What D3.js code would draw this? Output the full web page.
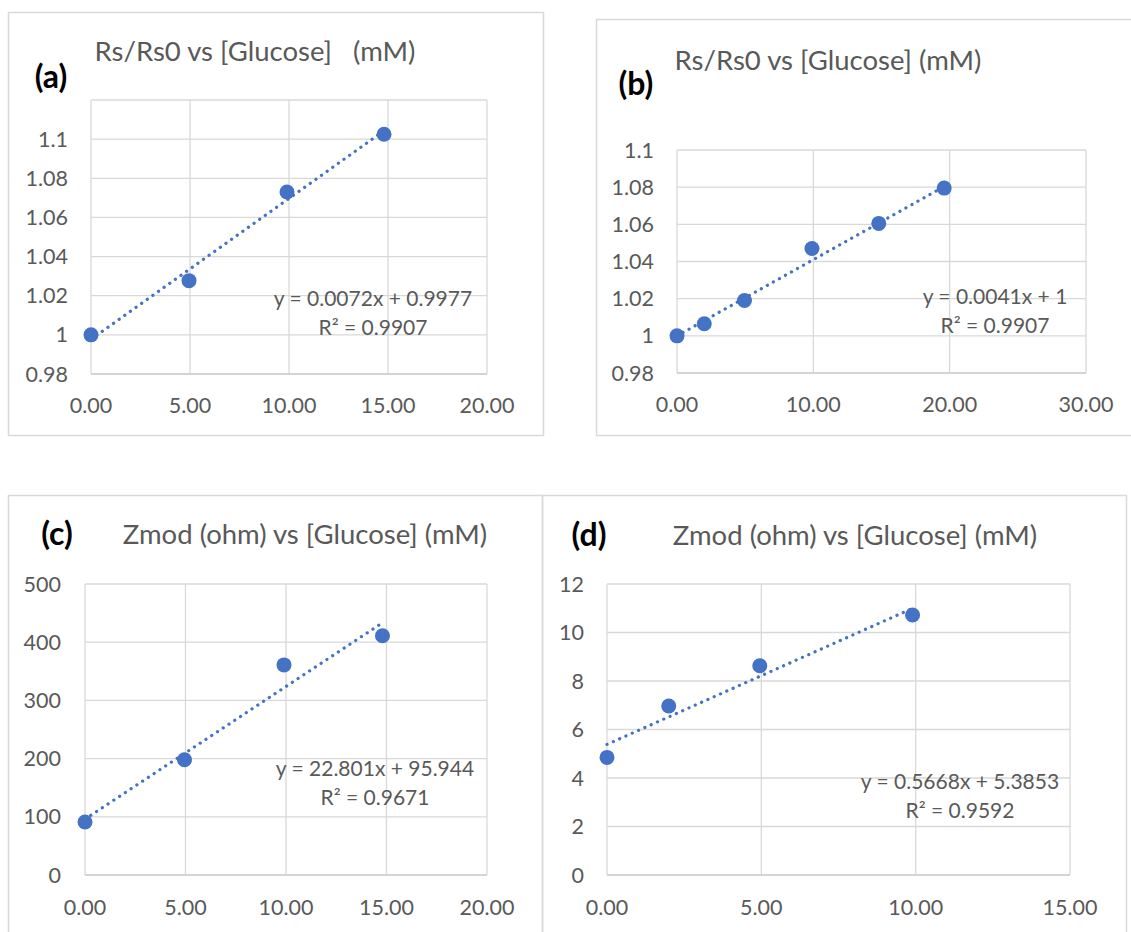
<!DOCTYPE html>
<html>
<head>
<meta charset="utf-8">
<script src="https://cdn.jsdelivr.net/npm/d3@7"></script>
<style>
  html, body { margin: 0; padding: 0; background: #ffffff; }
  svg { display: block; }
  text { font-family: Lato, "Noto Sans", sans-serif; }
</style>
</head>
<body>
<svg id="chart" width="1131" height="932"></svg>
<script>
// ---------- DATA ----------
const xA = [0, 4.95, 9.9, 14.8];
const yA = [1, 1.0277, 1.073, 1.1025];
const xB = [0, 2, 4.95, 9.9, 14.8, 19.6];
const yB = [1, 1.0065, 1.019, 1.047, 1.0605, 1.0795];
const xC = [0, 4.95, 9.9, 14.8];
const yC = [91, 198, 361, 411];
const xD = [0, 2, 4.95, 9.9];
const yD = [4.85, 6.97, 8.63, 10.72];

const slopes = [0.0072, 0.0041, 22.801, 0.5668];
const intercepts = [0.9977, 1, 95.944, 5.3853];
const equations = ["y = 0.0072x + 0.9977", "y = 0.0041x + 1", "y = 22.801x + 95.944", "y = 0.5668x + 5.3853"];
const rSquared = ["R² = 0.9907", "R² = 0.9907", "R² = 0.9671", "R² = 0.9592"];
const titles = ["Rs/Rs0 vs [Glucose]   (mM)", "Rs/Rs0 vs [Glucose] (mM)", "Zmod (ohm) vs [Glucose] (mM)", "Zmod (ohm) vs [Glucose] (mM)"];
const letters = ["(a)", "(b)", "(c)", "(d)"];

const xTicksA = [0, 5, 10, 15, 20];
const xTicksB = [0, 10, 20, 30];
const xTicksC = [0, 5, 10, 15, 20];
const xTicksD = [0, 5, 10, 15];
const yTicksA = [0.98, 1, 1.02, 1.04, 1.06, 1.08, 1.1];
const yTicksB = [0.98, 1, 1.02, 1.04, 1.06, 1.08, 1.1];
const yTicksC = [0, 100, 200, 300, 400, 500];
const yTicksD = [0, 2, 4, 6, 8, 10, 12];

// ---------- LAYOUT ----------
const layouts = [
  { frame: [8, 12, 535, 423], px: [91, 487], py: [374, 100], yDom: [0.98, 1.12], xDom: [0, 20],
    yLab: 68, xLabY: 405, title: [255, 51], letter: [51, 77], eq: [373, 299, 328] },
  { frame: [596, 19, 545, 416], px: [677, 1086], py: [373, 150], yDom: [0.98, 1.1], xDom: [0, 30],
    yLab: 654, xLabY: 404, title: [828, 60], letter: [636, 84], eq: [995, 297, 326] },
  { frame: [8, 495, 534, 450], px: [85, 487], py: [875, 584], yDom: [0, 500], xDom: [0, 20],
    yLab: 61, xLabY: 907, title: [305, 534], letter: [57, 534], eq: [375, 769, 798] },
  { frame: [542, 495, 584, 450], px: [607, 1070], py: [875, 584], yDom: [0, 12], xDom: [0, 15],
    yLab: 584, xLabY: 907, title: [855, 535], letter: [589, 535], eq: [960, 782, 811] }
];

const xs = [xA, xB, xC, xD];
const ys = [yA, yB, yC, yD];
const xTicks = [xTicksA, xTicksB, xTicksC, xTicksD];
const yTicks = [yTicksA, yTicksB, yTicksC, yTicksD];

const svg = d3.select("#chart");
svg.append("rect").attr("width", 1131).attr("height", 932).attr("fill", "#ffffff");

const textColor = "#595959";
const gridColor = "#D9D9D9";
const blue = "#4472C4";

layouts.forEach((L, i) => {
  const g = svg.append("g");
  g.append("rect")
    .attr("x", L.frame[0] + 0.5).attr("y", L.frame[1] + 0.5)
    .attr("width", L.frame[2]).attr("height", L.frame[3])
    .attr("fill", "none").attr("stroke", gridColor).attr("stroke-width", 1.5);

  const x = d3.scaleLinear().domain(L.xDom).range(L.px);
  const y = d3.scaleLinear().domain(L.yDom).range(L.py);

  const hLines = yTicks[i].concat([L.yDom[1]]).filter((v, k, a) => a.indexOf(v) === k);
  g.selectAll(".hg").data(hLines).join("line")
    .attr("x1", L.px[0]).attr("x2", L.px[1])
    .attr("y1", d => y(d)).attr("y2", d => y(d))
    .attr("stroke", gridColor).attr("stroke-width", 1.3);
  g.selectAll(".vg").data(xTicks[i]).join("line")
    .attr("x1", d => x(d)).attr("x2", d => x(d))
    .attr("y1", L.py[0]).attr("y2", L.py[1])
    .attr("stroke", gridColor).attr("stroke-width", 1.3);
  g.append("line")
    .attr("x1", L.px[0]).attr("x2", L.px[1])
    .attr("y1", y(L.yDom[0])).attr("y2", y(L.yDom[0]))
    .attr("stroke", "#CFCFCF").attr("stroke-width", 1.5);

  g.selectAll(".yl").data(yTicks[i]).join("text")
    .attr("x", L.yLab).attr("y", d => y(d))
    .attr("dy", "0.35em").attr("text-anchor", "end")
    .attr("fill", textColor).attr("font-size", 21.5)
    .text(d => String(d));
  g.selectAll(".xl").data(xTicks[i]).join("text")
    .attr("x", d => x(d)).attr("y", L.xLabY)
    .attr("dy", "0.35em").attr("text-anchor", "middle")
    .attr("fill", textColor).attr("font-size", 21.5)
    .text(d => d3.format(".2f")(d));

  const xMin = d3.min(xs[i]), xMax = d3.max(xs[i]);
  g.append("line")
    .attr("x1", x(xMin)).attr("y1", y(slopes[i] * xMin + intercepts[i]))
    .attr("x2", x(xMax)).attr("y2", y(slopes[i] * xMax + intercepts[i]))
    .attr("stroke", blue).attr("stroke-width", 3.2)
    .attr("stroke-linecap", "round").attr("stroke-dasharray", "0.1 6.8");

  g.selectAll(".pt").data(xs[i].map((v, k) => [v, ys[i][k]])).join("circle")
    .attr("cx", d => x(d[0])).attr("cy", d => y(d[1]))
    .attr("r", 7.5).attr("fill", blue);

  g.append("text")
    .attr("x", L.title[0]).attr("y", L.title[1]).attr("dy", "0.35em")
    .attr("text-anchor", "middle").attr("fill", textColor).attr("font-size", 27.5)
    .style("white-space", "pre")
    .text(titles[i]);
  g.append("text")
    .attr("x", L.letter[0]).attr("y", L.letter[1]).attr("dy", "0.35em")
    .attr("text-anchor", "middle").attr("fill", "#000000").attr("font-size", 32)
    .attr("font-weight", "bold")
    .text(letters[i]);
  g.append("text")
    .attr("x", L.eq[0]).attr("y", L.eq[1]).attr("dy", "0.35em")
    .attr("text-anchor", "middle").attr("fill", textColor).attr("font-size", 21)
    .text(equations[i]);
  g.append("text")
    .attr("x", L.eq[0]).attr("y", L.eq[2]).attr("dy", "0.35em")
    .attr("text-anchor", "middle").attr("fill", textColor).attr("font-size", 21)
    .text(rSquared[i]);
});
</script>
</body>
</html>
